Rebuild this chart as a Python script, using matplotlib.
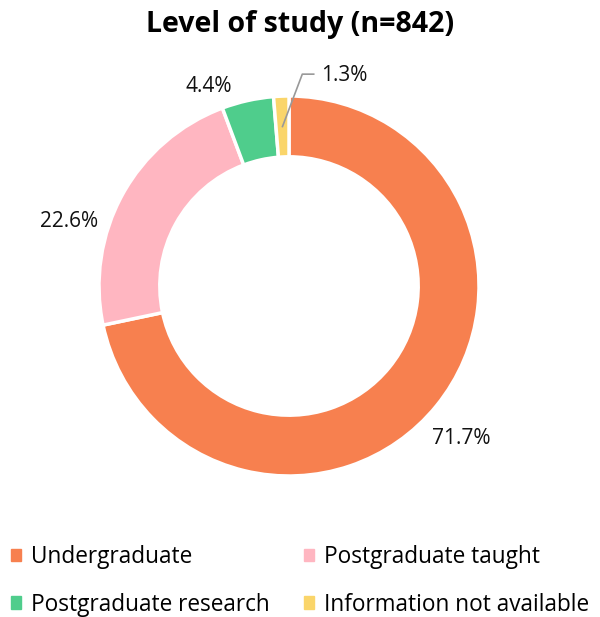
import matplotlib.pyplot as plt
import numpy as np

categories = ['Undergraduate', 'Postgraduate taught', 'Postgraduate research', 'Information not available']
shares = [71.7, 22.6, 4.4, 1.3]
colors = ['#F7804F', '#FFB6C1', '#4FCD8C', '#FAD56A']

plt.rcParams['font.family'] = ['Open Sans', 'DejaVu Sans']

fig = plt.figure(figsize=(6, 6.17), dpi=100)
ax = fig.add_axes([99 / 600, (617 - 286 - 190) / 617, 380 / 600, 380 / 617])

wedges, _ = ax.pie(shares, colors=colors, startangle=90, counterclock=False,
                   wedgeprops=dict(width=0.32, edgecolor='white', linewidth=2.5))
ax.set_xlim(-1, 1)
ax.set_ylim(-1, 1)
ax.set_aspect('equal')
ax.axis('off')

# label placement (x, y, ha) in data units
label_pos = [(0.905, -0.80, 'center'), (-1.16, 0.34, 'center'),
             (-0.42, 1.05, 'center'), (0.17, 1.11, 'left')]
for w, val, (x, y, ha) in zip(wedges, shares, label_pos):
    ax.text(x, y, f'{val}%', ha=ha, va='center', fontsize=15, color='#111111')

# leader line for the small slice
w = wedges[3]
mid = np.deg2rad((w.theta1 + w.theta2) / 2)
x0, y0 = 0.84 * np.cos(mid), 0.84 * np.sin(mid)
ax.plot([x0, 0.07, 0.13], [y0, 1.115, 1.115], color='#999999', lw=1.2, clip_on=False)

fig.text(0.5, 0.96, 'Level of study (n=842)', ha='center', va='center',
         fontsize=20.5, fontweight='bold')

handles = [plt.Rectangle((0, 0), 1, 1, color=c) for c in colors]
order = [0, 2, 1, 3]
fig.legend([handles[i] for i in order], [categories[i] for i in order],
           loc='lower left', bbox_to_anchor=(0.003, -0.014), ncol=2, frameon=False,
           borderaxespad=0.2, borderpad=0.2,
           fontsize=16.3, handlelength=0.45, handleheight=0.45, handletextpad=0.45,
           columnspacing=1.5, labelspacing=1.05)

fig.savefig('out.png', dpi=100)
